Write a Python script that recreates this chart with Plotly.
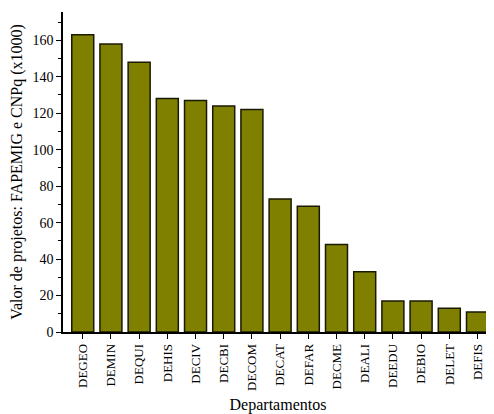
import plotly.graph_objects as go

departamentos = ["DEGEO", "DEMIN", "DEQUI", "DEHIS", "DECIV", "DECBI", "DECOM",
                 "DECAT", "DEFAR", "DECME", "DEALI", "DEEDU", "DEBIO", "DELET", "DEFIS"]
valores = [163, 158, 148, 128, 127, 124, 122, 73, 69, 48, 33, 17, 17, 13, 11]
y_ticks = [0, 20, 40, 60, 80, 100, 120, 140, 160]

FONT = "Liberation Serif, Times New Roman, serif"

fig = go.Figure()
fig.add_trace(go.Bar(
    x=departamentos, y=valores,
    marker=dict(color="#808000", line=dict(color="#1a1a00", width=1.5)),
    width=0.78,
))
# invisible trace for right-side ticks
fig.add_trace(go.Scatter(x=[departamentos[0]], y=[0], yaxis="y2", mode="markers",
                         marker=dict(opacity=0), showlegend=False, hoverinfo="skip"))

# page body has an 8px margin, so the figure is sized 8px smaller
fig.update_layout(
    width=486, height=406,
    margin=dict(l=55, r=1, t=4, b=82, autoexpand=False),
    paper_bgcolor="white", plot_bgcolor="white",
    showlegend=False,
    font=dict(family=FONT, color="black"),
    xaxis=dict(
        range=[-0.7, 14.55], automargin=False,
        showline=True, linecolor="black", linewidth=1.5,
        ticks="outside", ticklen=5, tickwidth=1, tickcolor="black",
        tickangle=-90, tickfont=dict(size=13, family=FONT),
        title=dict(text="Departamentos", font=dict(size=16, family=FONT), standoff=12),
        showgrid=False, zeroline=False,
    ),
    yaxis=dict(
        range=[0, 175.5], automargin=False,
        tickvals=y_ticks,
        showline=True, linecolor="black", linewidth=1.5,
        ticks="outside", ticklen=5, tickwidth=1, tickcolor="black",
        minor=dict(dtick=10, ticks="outside", ticklen=3, tickcolor="black", tickwidth=1),
        tickfont=dict(size=14, family=FONT),
        title=dict(text="Valor de projetos: FAPEMIG e CNPq (x1000)", font=dict(size=16, family=FONT), standoff=10),
        showgrid=False, zeroline=False,
    ),
    yaxis2=dict(
        overlaying="y", side="right", range=[0, 175.5], automargin=False,
        tickvals=y_ticks, showticklabels=False,
        ticks="inside", ticklen=4, tickwidth=1, tickcolor="black",
        showline=False, showgrid=False, zeroline=False,
    ),
)

fig.write_html("out.html")
